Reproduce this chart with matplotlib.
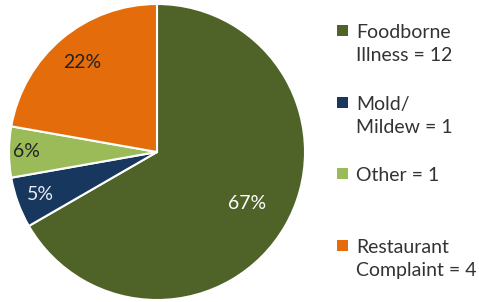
import matplotlib
matplotlib.use("Agg")
import matplotlib.pyplot as plt
from matplotlib.patches import Rectangle
import numpy as np

plt.rcParams['font.family'] = ['Lato', 'DejaVu Sans']

# data
categories = ['Foodborne\nIllness = 12', 'Mold/\nMildew = 1', 'Other = 1',
              'Restaurant\nComplaint = 4']
counts = [12, 1, 1, 4]
pct_labels = ['67%', '5%', '6%', '22%']

colors = ['#4F6228', '#17375E', '#9BBB59', '#E46C0A']
pct_colors = ['white', '#E8ECF2', '#222222', '#222222']
pct_dist = [0.70, 0.84, 0.88, 0.79]

W, H = 479, 302
fig = plt.figure(figsize=(W / 100, H / 100), dpi=100)

# pie centre ~ (157,152) px, radius ~147 px
cx, cy, r = 157, 152, 148
ax = fig.add_axes([(cx - r) / W, 1 - (cy + r) / H, 2 * r / W, 2 * r / H])
wedges, _ = ax.pie(counts, colors=colors, startangle=90, counterclock=False,
                   wedgeprops=dict(edgecolor='white', linewidth=1.5))
ax.set_aspect('auto')
ax.set_xlim(-1, 1)
ax.set_ylim(-1, 1)

for w, lab, c, d in zip(wedges, pct_labels, pct_colors, pct_dist):
    ang = np.deg2rad((w.theta1 + w.theta2) / 2)
    ax.text(d * np.cos(ang), d * np.sin(ang), lab, ha='center', va='center',
            fontsize=14, color=c)

# legend, drawn entry by entry like the Excel layout
tops = [24, 96, 167, 239]
for lab, col, top in zip(categories, colors, tops):
    fig.patches.append(Rectangle((337 / W, 1 - (top + 12) / H), 11 / W, 11 / H,
                                 transform=fig.transFigure, facecolor=col,
                                 edgecolor='none'))
    fig.text(356 / W, 1 - top / H, lab, ha='left', va='top', fontsize=14,
             color='#333333', linespacing=1.4)

fig.savefig('out.png', dpi=100)
